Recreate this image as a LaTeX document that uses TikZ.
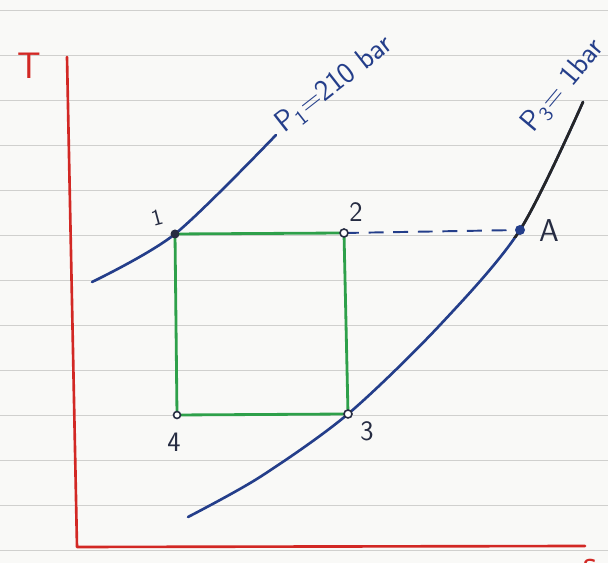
\documentclass[tikz,border=0pt]{standalone}
\usepackage{tikz}
\usetikzlibrary{calc,positioning}
\definecolor{penblue}{RGB}{36,62,138}
\definecolor{pengreen}{RGB}{46,160,74}
\definecolor{penred}{RGB}{210,40,36}
\definecolor{ruleline}{RGB}{208,208,206}
\definecolor{paper}{RGB}{249,249,247}
\definecolor{ink}{RGB}{38,44,66}
\tikzset{
  axisline/.style={penred, line width=1.5pt, line cap=round, line join=round},
  isobar/.style={penblue, line width=1.5pt, line cap=round},
  cycleline/.style={pengreen, line width=1.6pt, line join=round},
  ruling/.style={ruleline, line width=0.5pt},
  dashline/.style={penblue, line width=1.1pt, dash pattern=on 8.5pt off 5.5pt},
  openpt/.style={draw=ink, line width=0.9pt, fill=white},
  hand/.style={font=\sffamily\fontsize{16}{18}\selectfont, text=ink, inner sep=1pt},
  axislabel/.style={font=\sffamily\fontsize{21}{23}\selectfont, text=penred, inner sep=1pt},
  plabel/.style={font=\sffamily\fontsize{17}{19}\selectfont, text=penblue, inner sep=1pt, anchor=base west}
}

\begin{document}
\begin{tikzpicture}[x=0.02cm,y=0.02cm]
  \useasboundingbox[fill=paper] (0,0) rectangle (608,563);
  \foreach \yy in {13,58,...,555} \draw[ruling] (0,\yy)--(608,\yy);

  \coordinate (Ttop) at (67,506);
  \coordinate (O) at (77,16);
  \coordinate (send) at (585,17);
  \draw[axisline] (Ttop)--(O)--(send);
  \node[axislabel] (Tlab) at (29,497) {T};
  \node[axislabel] (slab) at (590,-4) {s};

  \coordinate (p1) at (175,329);
  \coordinate (p2) at (344,330);
  \coordinate (p3) at (348,149);
  \coordinate (p4) at (177,148);
  \coordinate (pA) at (520,333);

  \draw[isobar] plot[smooth] coordinates {(92,281) (p1) (276,428)};
  \draw[isobar] plot[smooth] coordinates {(188,46) (260,86) (p3) (440,238) (pA) (583,461)};
  \begin{scope}
    \clip (510,325) rectangle (608,563);
    \draw[isobar, black!85] plot[smooth] coordinates {(188,46) (260,86) (p3) (440,238) (pA) (583,461)};
  \end{scope}

  \draw[dashline] (p2)--(pA);
  \draw[cycleline] (p1)--(p2)--(p3)--(p4)--cycle;

  \fill[ink] (p1) circle (4.5);
  \draw[openpt] (p2) circle (4);
  \draw[openpt] (p3) circle (4);
  \draw[openpt] (p4) circle (3.5);
  \fill[penblue] (pA) circle (5);

  \node[hand, rotate=15, font=\sffamily\fontsize{13}{15}\selectfont] (l1) at (157,345) {1};
  \node[hand] (l2) at (356,351) {2};
  \node[hand] (l3) at (367,132) {3};
  \node[hand] (l4) at (174,121) {4};
  \node[hand, font=\sffamily\fontsize{18}{20}\selectfont] (lA) at (549,332) {A};

  \node[plabel, rotate=38] (p1lab) at (283,428) {P\textsubscript{1}=210 bar};
  \node[plabel, rotate=50] (p3lab) at (532,428) {P\textsubscript{3}= 1bar};
\end{tikzpicture}
\end{document}
